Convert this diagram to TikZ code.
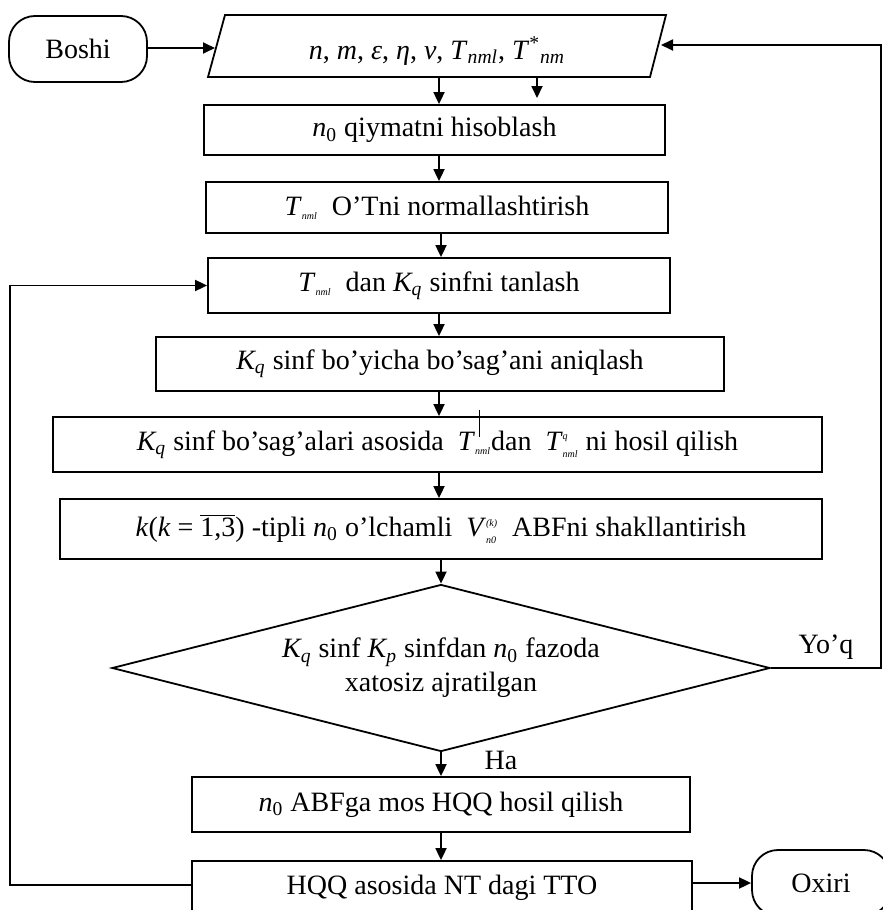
\documentclass[tikz,border=0pt]{standalone}
\usepackage{fontspec}
\setmainfont{Liberation Serif}
\usetikzlibrary{arrows.meta,shapes.geometric}
\newcommand{\tsub}[1]{\textsubscript{\textit{#1}}}
\newcommand{\tnysub}[1]{\textsubscript{\fontsize{5}{5}\selectfont\textit{#1}}}
\newcommand{\tnyboth}[2]{$^{\mbox{\fontsize{5}{5}\selectfont\textit{#1}}}_{\mbox{\fontsize{5}{5}\selectfont\textit{#2}}}$}
\begin{document}
\begin{tikzpicture}[x=0.5pt,y=-0.5pt, line width=0.9pt,
  every node/.style={font=\fontsize{14}{17}\selectfont},
  box/.style={draw, rectangle, inner sep=0pt},
  term/.style={draw, rectangle, rounded corners=13pt, inner sep=0pt, minimum width=69pt, minimum height=33pt},
  dec/.style={draw, diamond, aspect=3.94, inner sep=0pt, align=center},
  arr/.style={-{Triangle[length=6pt,width=5.5pt]}},
  lbl/.style={inner sep=0pt}]
\useasboundingbox (0,0) rectangle (883,910);
\clip (0,0) rectangle (883,910);

% start
\node[term] (boshi) at (78,49) {Boshi};

% input parallelogram
\coordinate (p1) at (225,15);
\coordinate (p2) at (666,15);
\coordinate (p3) at (650,77);
\coordinate (p4) at (208,77);
\draw (p1) -- (p2) -- (p3) -- (p4) -- cycle;
\node[lbl] (inp) at (437,51) {\textit{n}, \textit{m}, \textit{ε}, \textit{η}, \textit{ν}, \textit{T}\tsub{nml}, \textit{T}\textsuperscript{*}\tsub{nm}};
\coordinate (inL) at (215,48);
\coordinate (inR) at (661,45);
\coordinate (inB1) at (439,77);
\coordinate (inB2) at (537,77);
\coordinate (stub) at (537,98);

% process boxes
\node[box, minimum width=230.5pt, minimum height=25pt] (n0) at (434.5,130) {\textit{n}\textsubscript{0} qiymatni hisoblash};
\node[box, minimum width=231pt, minimum height=25.5pt] (tn) at (437,207.5) {\textit{T}\tnysub{nml}\ \ O'Tni normallashtirish};
\node[box, minimum width=231pt, minimum height=27.5pt] (tk) at (439,285.5) {\textit{T}\tnysub{nml}\ \ dan \textit{K\textsubscript{q}} sinfni tanlash};
\node[box, minimum width=284pt, minimum height=27pt] (kq) at (440,364) {\textit{K\textsubscript{q}} sinf bo'yicha bo'sag'ani aniqlash};
\node[box, minimum width=384.5pt, minimum height=27.5pt] (kq2) at (437.5,444.5) {\textit{K\textsubscript{q}} sinf bo'sag'alari asosida\ \ \textit{T}\tnysub{nml}dan\ \ \textit{T}\tnyboth{q}{nml}\ ni hosil qilish};
\node[box, minimum width=381pt, minimum height=30pt] (kk) at (441,529) {\textit{k}(\textit{k} = $\overline{\mbox{1,3}}$) -tipli \textit{n}\textsubscript{0} o'lchamli\ \ \textit{V}\tnyboth{(k)}{n0}\ \ ABFni shakllantirish};
\node[dec, minimum width=329pt, minimum height=83.5pt] (dia) at (441,668) {\textit{K\textsubscript{q}} sinf \textit{K\textsubscript{p}} sinfdan \textit{n}\textsubscript{0} fazoda\\xatosiz ajratilgan};
\node[box, minimum width=249pt, minimum height=27.5pt] (abf) at (441,804.5) {\textit{n}\textsubscript{0} ABFga mos HQQ hosil qilish};
\node[box, minimum width=250pt, minimum height=27pt] (hqq) at (442,888) {HQQ asosida NT dagi TTO};
\node[term] (ox) at (821,883) {Oxiri};

% labels
\node[lbl] (yoq) at (826,647) {Yo'q};
\node[lbl] (ha) at (501,760) {Ha};

% connectors
\draw[arr] (boshi.east |- inL) -- (inL);
\draw[arr] (inB1) -- (inB1 |- n0.north);
\draw[arr] (inB2) -- (stub);
\draw[arr] (n0.south -| inB1) -- (inB1 |- tn.north);
\draw[arr] (tn.south) ++(4,0) coordinate (a1) (a1) -- (a1 |- tk.north);
\draw[arr] (tk.south) -- (tk.south |- kq.north);
\draw[arr] (kq.south -| tk.south) -- (tk.south |- kq2.north);
\draw[arr] (kq2.south -| tk.south) -- (tk.south |- kk.north);
\draw[arr] (kk.south -| dia.north) -- (dia.north);
\draw[arr] (dia.south) -- (dia.south |- abf.north);
\draw[arr] (abf.south) -- (abf.south |- hqq.north);
\draw[arr] (hqq.east |- ox.west) -- (ox.west);
\coordinate (lc) at (10,885);
\draw[arr] (hqq.west |- lc) -- (lc) |- (tk.west);
\coordinate (rc) at (881,45);
\draw[arr] (dia.east) -| (rc) -- (inR);

% stray vertical tick in the reference
\coordinate (tk1) at (479,410);
\coordinate (tk2) at (479,437);
\draw[line width=0.5pt] (tk1) -- (tk2);
\end{tikzpicture}
\end{document}
